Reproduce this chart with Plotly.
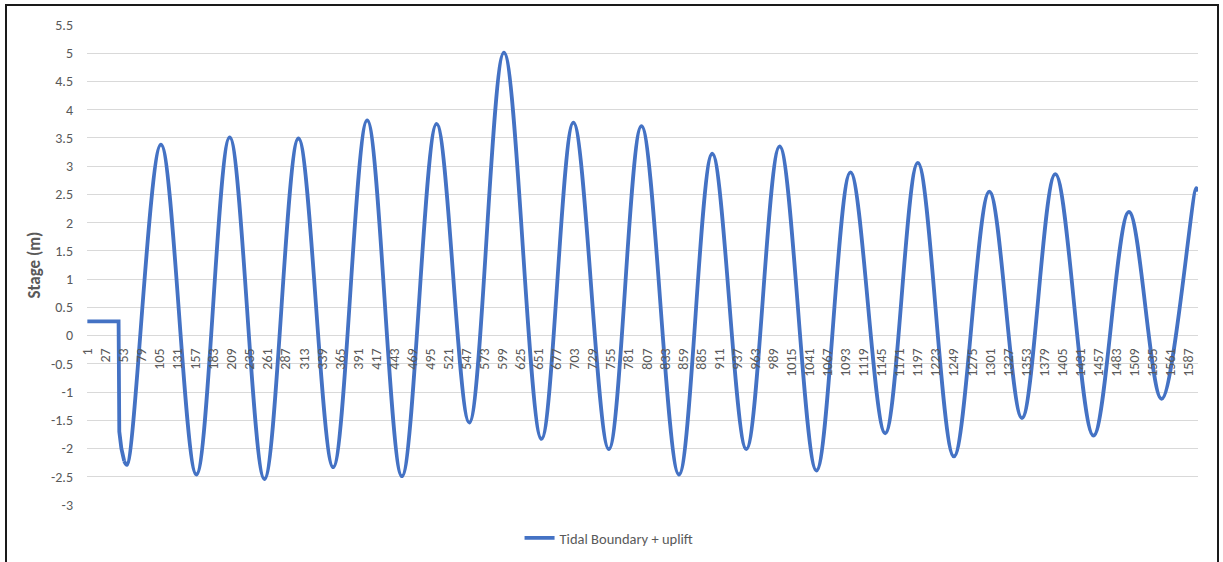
import plotly.graph_objects as go

# ---- data (category index, stage in metres) ----
start_x = [1, 46, 47, 50, 54]
start_y = [0.25, 0.25, -1.70, -2.00, -2.22]

tide_x = [54, 58, 107, 158, 206, 256, 305, 355, 404, 454, 504, 551, 601, 655, 701,
          752, 799, 853, 901, 950, 998, 1051, 1100, 1150, 1197, 1249, 1300, 1347,
          1395, 1450, 1501, 1548, 1598, 1600]
tide_y = [-2.22, -2.29, 3.38, -2.46, 3.51, -2.54, 3.49, -2.33, 3.81, -2.49, 3.75, -1.54,
          5.01, -1.83, 3.77, -2.01, 3.71, -2.46, 3.22, -2.01, 3.35, -2.39, 2.89, -1.73,
          3.06, -2.14, 2.55, -1.46, 2.86, -1.77, 2.19, -1.12, 2.61, 2.55]

x_tick_vals = list(range(1, 1588, 26))
x_tick_text = [str(v) for v in x_tick_vals]
y_tick_vals = [-3, -2.5, -2, -1.5, -1, -0.5, 0, 0.5, 1, 1.5, 2, 2.5, 3, 3.5, 4, 4.5, 5, 5.5]
y_tick_text = ["-3", "-2.5", "-2", "-1.5", "-1", "-0.5", "0", "0.5", "1", "1.5", "2",
               "2.5", "3", "3.5", "4", "4.5", "5", "5.5"]

series_name = "Tidal Boundary + uplift"
LINE = "#4472C4"
GRID = "#D9D9D9"
TXT = "#595959"
FONT = "Calibri, Carlito, Lato, sans-serif"

fig = go.Figure()
fig.add_trace(go.Scatter(x=start_x, y=start_y, mode="lines",
                         line=dict(color=LINE, width=3.8), showlegend=False,
                         hoverinfo="skip"))
fig.add_trace(go.Scatter(x=tide_x, y=tide_y, mode="lines", name=series_name,
                         line=dict(color=LINE, width=3.8, shape="spline")))

W, H = 1223, 562
L, R, T, B = 87, 25, 25, 57
pw, ph = W - L - R, H - T - B

fig.update_layout(
    width=W, height=H,
    margin=dict(l=L, r=R, t=T, b=B, autoexpand=False),
    paper_bgcolor="white", plot_bgcolor="white",
    font=dict(family=FONT, size=14, color=TXT),
    xaxis=dict(range=[0.5, 1600.5], tickmode="array", tickvals=x_tick_vals,
               ticktext=x_tick_text, tickangle=-90, anchor="free",
               position=3 / 8.5, showgrid=False, zeroline=False, showline=False,
               ticks="", ticklabelstandoff=9, automargin=False,
               tickfont=dict(family=FONT, size=14, color=TXT)),
    yaxis=dict(range=[-3, 5.5], tickmode="array", tickvals=y_tick_vals,
               ticktext=y_tick_text, showgrid=True, gridcolor=GRID, gridwidth=1,
               zeroline=False, showline=False, ticks="", ticklabelstandoff=13,
               automargin=False,
               tickfont=dict(family=FONT, size=14, color=TXT),
               title=dict(text="<b>Stage (m)</b>", standoff=6,
                          font=dict(family=FONT, size=17, color=TXT))),
    legend=dict(orientation="h", xref="container", x=0.498, xanchor="center",
                yref="container", y=(H - 538) / H, yanchor="middle",
                font=dict(family=FONT, size=14.5, color=TXT),
                bgcolor="rgba(0,0,0,0)"),
    shapes=[dict(type="rect", xref="paper", yref="paper",
                 x0=(6 - L) / pw, x1=(1218 - L) / pw,
                 y0=(H - T - 600) / ph, y1=(T + ph - 5) / ph,
                 line=dict(color="#1a1a1a", width=2), fillcolor="rgba(0,0,0,0)",
                 layer="above")],
)

fig.write_html("out.html", config={"displayModeBar": False},
               post_script="document.body.style.margin='0px';document.body.style.overflow='hidden';")
